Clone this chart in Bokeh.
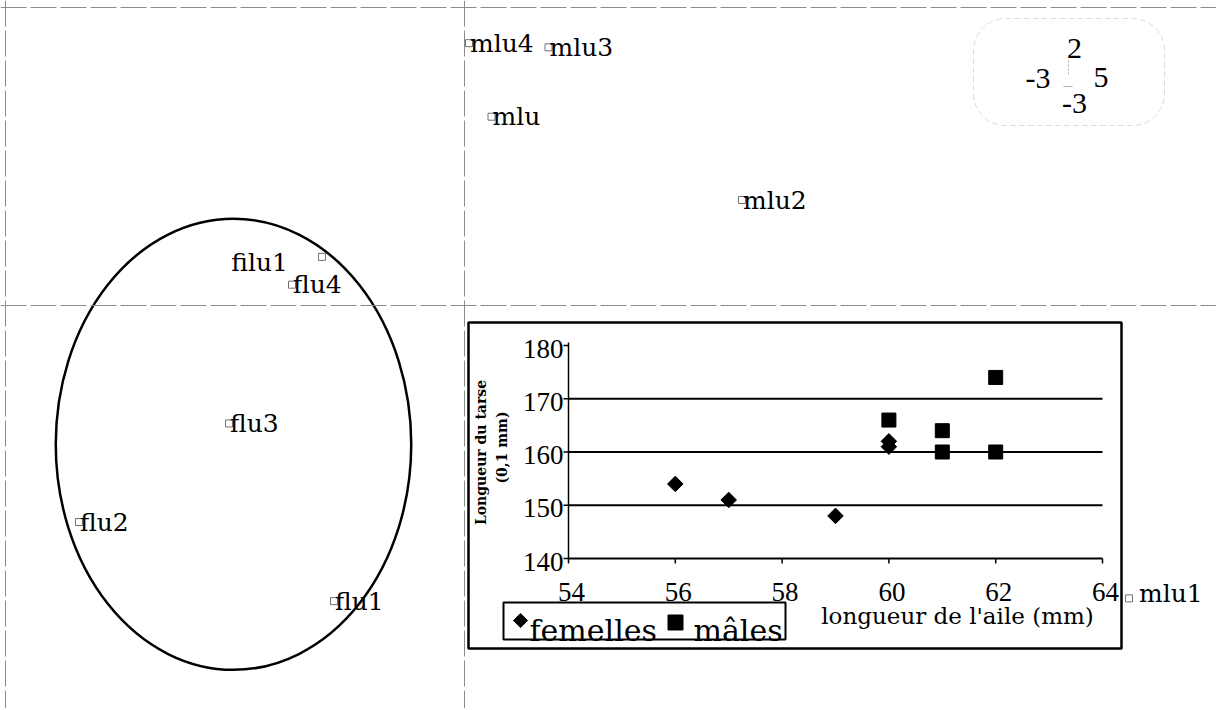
import math
from bokeh.plotting import figure
from bokeh.models import Range1d, Span, BoxAnnotation
from bokeh.core.properties import value
from bokeh.embed import file_html
from bokeh.resources import INLINE

# ---------------- data: factorial map (labelled points) ----------------
point_names = ["mlu4", "mlu3", "mlu", "mlu2", "flu4", "flu3", "flu2", "flu1"]
point_x = [0.03, 0.56, 0.18, 1.85, -1.15, -1.57, -2.57, -0.87]
point_y = [1.89, 1.86, 1.36, 0.76, 0.15, -0.85, -1.56, -2.13]

odd_names = ["filu1", "mlu1"]
odd_x = [-0.95, 4.43]
odd_y = [0.35, -2.11]

# ellipse around the female points (centre, width, height in map units)
ellipse_x = [-1.54]
ellipse_y = [-1.00]
ellipse_w = [2.37]
ellipse_h = [3.25]

# scale key (top right box): top, left, right, bottom
scale_labels = ["2", "-3", "5", "-3"]

# ---------------- data: inset scatter ----------------
fem_wing = [56, 57, 59, 60, 60]
fem_tarsus = [154, 151, 148, 162, 161]
male_wing = [60, 61, 61, 62, 62]
male_tarsus = [166, 164, 160, 160, 174]
x_ticks = [54, 56, 58, 60, 62, 64]
y_ticks = [140, 150, 160, 170, 180]
x_title = "longueur de l'aile (mm)"
y_title = ["Longueur du tarse", "(0,1 mm)"]
legend_labels = ["femelles", "mâles"]

# ---------------- layout / scales ----------------
W, H = 1216, 708
PAGE = 0
# main map: 150 px per unit in x, 138.8 px per unit in y
MX_PX, MY_PX = 150.0, 138.8
MX0 = (464 - PAGE) / MX_PX          # x=0 at page px 464
MY0 = (305 - PAGE) / MY_PX          # y=0 at page px 305
m_xr = Range1d(-MX0, -MX0 + W / MX_PX)
m_yr = Range1d(MY0 - H / MY_PX, MY0)

# inset: 54 at page x 568, 53.4 px/unit ; 180 at page y 345, 5.325 px/unit
IX_PX, IY_PX = 53.4, 5.325
IX_START = 54 - (568 - PAGE) / IX_PX
IY_TOP = 180 + (345 - PAGE) / IY_PX

def mpx(px):
    return m_xr.start + (px - PAGE) / MX_PX

def mpy(py):
    return m_yr.end - (py - PAGE) / MY_PX

def ipx(px):
    return IX_START + (px - PAGE) / IX_PX

def ipy(py):
    return IY_TOP - (py - PAGE) / IY_PX

p = figure(width=W, height=H, x_range=m_xr, y_range=m_yr,
           output_backend="svg", toolbar_location=None, min_border=0,
           x_axis_location=None, y_axis_location=None)
p.grid.visible = False
p.outline_line_color = None
p.background_fill_color = "white"
p.border_fill_color = "white"

p.extra_x_ranges = {"ix": Range1d(IX_START, IX_START + W / IX_PX)}
p.extra_y_ranges = {"iy": Range1d(IY_TOP - H / IY_PX, IY_TOP)}

GRAY = "#8c8c8c"
serif_w = value("DejaVu Serif")
times = value("Liberation Serif")

# frame lines and axes of the map
for loc, dim in [(mpy(7), "width"), (mpx(5), "height"), (0, "width"), (0, "height")]:
    p.add_layout(Span(location=loc, dimension=dim, line_color=GRAY,
                      line_width=1, line_dash="26 4"))

# ellipse
p.ellipse(x=ellipse_x, y=ellipse_y, width=ellipse_w, height=ellipse_h,
          fill_color=None, line_color="black", line_width=2.5)

# map points
p.scatter(point_x + odd_x, point_y + odd_y, marker="square", size=7,
          fill_color=None, line_color="#707070", line_width=1)
p.text(point_x, point_y, text=point_names, x_offset=1, y_offset=0,
       text_align="left", text_baseline="alphabetic",
       text_font=serif_w, text_font_size="25px", text_color="black")
p.text(odd_x[:1], odd_y[:1], text=odd_names[:1], x_offset=-34, y_offset=6,
       text_align="right", text_baseline="alphabetic",
       text_font=serif_w, text_font_size="25px", text_color="black")
p.text(odd_x[1:], odd_y[1:], text=odd_names[1:], x_offset=10, y_offset=-5,
       text_align="left", text_baseline="alphabetic",
       text_font=serif_w, text_font_size="25px", text_color="black")

# scale key box
p.add_layout(BoxAnnotation(left=mpx(973), right=mpx(1164), top=mpy(18), bottom=mpy(125),
                           border_radius=32, fill_alpha=0, line_color="#8f8f8f",
                           line_width=1, line_dash="6 3"))
key_x = [mpx(1074), mpx(1050), mpx(1093), mpx(1074)]
key_y = [mpy(48), mpy(78), mpy(77), mpy(103)]
p.text(key_x[:1] + key_x[3:], key_y[:1] + key_y[3:], text=[scale_labels[0], scale_labels[3]],
       text_align="center", text_baseline="middle", text_font=times,
       text_font_size="30px", text_color="black")
p.text(key_x[1:2], key_y[1:2], text=[scale_labels[1]], text_align="right",
       text_baseline="middle", text_font=times, text_font_size="30px", text_color="black")
p.text(key_x[2:3], key_y[2:3], text=[scale_labels[2]], text_align="left",
       text_baseline="middle", text_font=times, text_font_size="30px", text_color="black")
p.segment(x0=[mpx(1068)], y0=[mpy(60)], x1=[mpx(1068)], y1=[mpy(76)],
          line_color="#b0b0b0", line_width=1, line_dash="2 2")
p.segment(x0=[mpx(1063)], y0=[mpy(86)], x1=[mpx(1072)], y1=[mpy(86)],
          line_color="#b0b0b0", line_width=1)

# ---------------- inset chart ----------------
IR = dict(x_range_name="ix", y_range_name="iy")
p.quad(left=[ipx(468)], right=[ipx(1121)], top=[ipy(322)], bottom=[ipy(648)],
       fill_color="white", line_color="black", line_width=2.5, **IR)

grid_vals = y_ticks[1:-1]
p.segment(x0=[x_ticks[0]] * len(grid_vals), x1=[x_ticks[-1]] * len(grid_vals),
          y0=grid_vals, y1=grid_vals, line_color="black", line_width=2, **IR)
# axes
p.segment(x0=[x_ticks[0]], x1=[x_ticks[-1]], y0=[y_ticks[0]], y1=[y_ticks[0]],
          line_color="black", line_width=2, **IR)
p.segment(x0=[x_ticks[0]], x1=[x_ticks[0]], y0=[y_ticks[0]], y1=[ipy(342)],
          line_color="black", line_width=1.5, **IR)
# ticks
p.segment(x0=x_ticks, x1=x_ticks, y0=[y_ticks[0]] * len(x_ticks),
          y1=[ipy(563)] * len(x_ticks), line_color="black", line_width=1.5, **IR)
p.segment(x0=[x_ticks[0]] * len(y_ticks), x1=[ipx(563)] * len(y_ticks),
          y0=y_ticks, y1=y_ticks, line_color="black", line_width=1.5, **IR)
# tick labels
p.text(x_ticks, [y_ticks[0]] * len(x_ticks), text=[str(v) for v in x_ticks],
       x_offset=3, y_offset=33, text_align="center", text_baseline="middle",
       text_font=times, text_font_size="27px", text_color="black", **IR)
p.text([x_ticks[0]] * len(y_ticks), y_ticks, text=[str(v) for v in y_ticks],
       x_offset=-5, y_offset=3, text_align="right", text_baseline="middle",
       text_font=times, text_font_size="27px", text_color="black", **IR)
# axis titles
p.text([ipx(957)], [ipy(615)], text=[x_title], text_align="center",
       text_baseline="alphabetic", text_font=serif_w, text_font_size="23px",
       text_color="black", **IR)
p.text([ipx(480), ipx(501)], [ipy(452), ipy(447)], text=y_title, angle=math.pi / 2,
       text_align="center", text_baseline="middle", text_font=serif_w,
       text_font_size="14px", text_font_style="bold", text_color="black", **IR)

# points
p.scatter(fem_wing, fem_tarsus, marker="square", angle=math.pi / 4, size=11,
          fill_color="black", line_color="black", **IR)
p.scatter(male_wing, male_tarsus, marker="square", size=14,
          fill_color="black", line_color="black", **IR)

# legend box
p.quad(left=[ipx(503)], right=[ipx(785)], top=[ipy(602)], bottom=[ipy(639)],
       fill_color="white", line_color="black", line_width=2, **IR)
p.scatter([ipx(520)], [ipy(620)], marker="square", angle=math.pi / 4, size=10,
          fill_color="black", line_color="black", **IR)
p.scatter([ipx(675)], [ipy(622)], marker="square", size=15,
          fill_color="black", line_color="black", **IR)
p.text([ipx(529), ipx(693)], [ipy(630), ipy(630)], text=legend_labels,
       text_align="left", text_baseline="alphabetic", text_font=serif_w,
       text_font_size="30px", text_color="black", **IR)

open("out.html", "w").write(file_html(p, INLINE))
